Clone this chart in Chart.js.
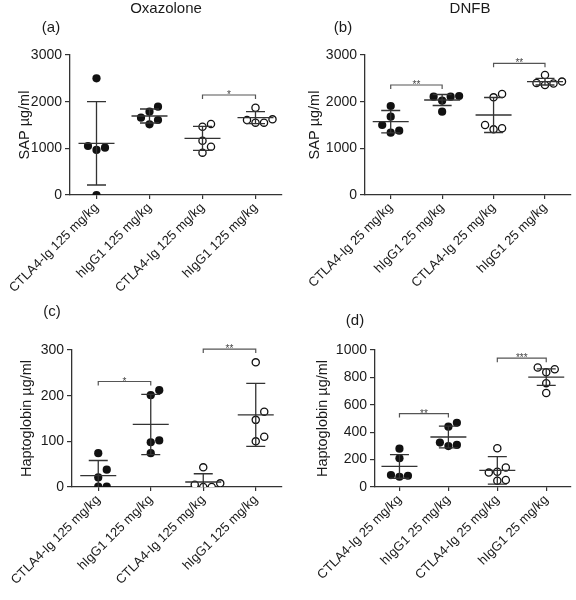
<!DOCTYPE html>
<html><head><meta charset="utf-8">
<script src="https://cdn.jsdelivr.net/npm/chart.js@4.4.1/dist/chart.umd.min.js"></script>
<style>
html,body{margin:0;padding:0;background:#fff;}
#wrap{position:relative;width:576px;height:600px;overflow:hidden;background:#fff;}
.panel{position:absolute;}
</style></head><body>
<div id="wrap">
  <div class="panel" style="left:0;top:0;width:288px;height:300px"><canvas id="cA"></canvas></div>
  <div class="panel" style="left:288px;top:0;width:288px;height:300px"><canvas id="cB"></canvas></div>
  <div class="panel" style="left:0;top:290px;width:288px;height:310px"><canvas id="cC"></canvas></div>
  <div class="panel" style="left:288px;top:290px;width:288px;height:310px"><canvas id="cD"></canvas></div>
</div>
<script>
// ---------- data ----------
const labels125 = ['CTLA4-Ig 125 mg/kg', 'hIgG1 125 mg/kg', 'CTLA4-Ig 125 mg/kg', 'hIgG1 125 mg/kg'];
const labels25 = ['CTLA4-Ig 25 mg/kg', 'hIgG1 25 mg/kg', 'CTLA4-Ig 25 mg/kg', 'hIgG1 25 mg/kg'];

const sapTicks = [0, 1000, 2000, 3000];
const hapOxaTicks = [0, 100, 200, 300];
const hapDnfbTicks = [0, 200, 400, 600, 800, 1000];

// (a) SAP, Oxazolone
const sapOxa1 = [2500, 1015, 965, 1050, 0];
const sapOxa2 = [1893, 1786, 1657, 1607, 1514];
const sapOxa3 = [1521, 1464, 1164, 1036, 907];
const sapOxa4 = [1871, 1621, 1607, 1550, 1550];
const sapOxaMean = [1107, 1693, 1214, 1657];
const sapOxaSD = [893, 150, 257, 129];
const sapOxaSig = [[2, 3, 2143, '*']];

// (b) SAP, DNFB
const sapDnfb1 = [1907, 1679, 1500, 1379, 1336];
const sapDnfb2 = [2121, 2107, 2107, 2021, 1786];
const sapDnfb3 = [2164, 2093, 1500, 1429, 1407];
const sapDnfb4 = [2571, 2430, 2400, 2390, 2357];
const sapDnfbMean = [1571, 2036, 1714, 2429];
const sapDnfbSD = [240, 118, 375, 72];
const sapDnfbSig = [[0, 1, 2357, '**'], [2, 3, 2821, '**']];

// (c) Haptoglobin, Oxazolone
const hapOxa1 = [74, 38, 21, 1, 1];
const hapOxa2 = [212, 201, 102, 98, 74];
const hapOxa3 = [43, 8, 5, 0, 0];
const hapOxa4 = [273, 165, 147, 110, 100];
const hapOxaMean = [25, 137, 11, 158];
const hapOxaSD = [33, 66, 18, 69];
const hapOxaSig = [[0, 1, 231, '*'], [2, 3, 302, '**']];

// (d) Haptoglobin, DNFB
const hapDnfb1 = [280, 210, 87, 82, 75];
const hapDnfb2 = [469, 440, 324, 307, 299];
const hapDnfb3 = [283, 142, 111, 105, 51, 46];
const hapDnfb4 = [872, 860, 838, 758, 686];
const hapDnfbMean = [150, 365, 121, 802];
const hapDnfbSD = [86, 80, 100, 60];
const hapDnfbSig = [[0, 1, 536, '**'], [2, 3, 940, '***']];

// ---------- plugins ----------
const FONT = '"Liberation Sans", Arial, Helvetica, sans-serif';
Chart.defaults.font.family = FONT;
Chart.defaults.color = '#1a1a1a';

const swarmPlugin = {
  id: 'swarm',
  afterDatasetsUpdate(chart, args, opts) {
    const d = opts.spacing;
    chart.data.datasets.forEach((ds, i) => {
      const meta = chart.getDatasetMeta(i);
      const els = meta.data.slice().sort((a, b) => b.y - a.y);
      const placed = [];
      els.forEach(el => {
        const cx = el.x;
        for (const k of [0, 1, -1, 2, -2, 3, -3]) {
          const x = cx + k * d;
          if (placed.every(p => Math.hypot(p.x - x, p.y - el.y) >= d - 0.01)) {
            el.x = x; placed.push({x: x, y: el.y}); break;
          }
        }
      });
    });
  }
};

const statsPlugin = {
  id: 'stats',
  afterDatasetsDraw(chart, args, opts) {
    const {ctx, chartArea} = chart;
    const xs = chart.scales.x, ys = chart.scales.y;
    ctx.save();
    ctx.beginPath();
    ctx.rect(chartArea.left, chartArea.top - 30, chartArea.right - chartArea.left, chartArea.bottom - chartArea.top + 30);
    ctx.clip();
    ctx.strokeStyle = '#333';
    ctx.lineWidth = 1.3;
    opts.means.forEach((m, i) => {
      const cx = xs.getPixelForValue(i);
      const ym = ys.getPixelForValue(m);
      const yt = ys.getPixelForValue(m + opts.sds[i]);
      const yb = ys.getPixelForValue(m - opts.sds[i]);
      ctx.beginPath();
      ctx.moveTo(cx - 18, ym); ctx.lineTo(cx + 18, ym);
      ctx.moveTo(cx, yt); ctx.lineTo(cx, yb);
      ctx.moveTo(cx - 9.5, yt); ctx.lineTo(cx + 9.5, yt);
      ctx.moveTo(cx - 9.5, yb); ctx.lineTo(cx + 9.5, yb);
      ctx.stroke();
    });
    ctx.strokeStyle = '#555';
    ctx.fillStyle = '#444';
    ctx.lineWidth = 1.2;
    ctx.font = '10px ' + FONT;
    ctx.textAlign = 'center';
    ctx.textBaseline = 'alphabetic';
    opts.sig.forEach(s => {
      const x1 = xs.getPixelForValue(s[0]);
      const x2 = xs.getPixelForValue(s[1]);
      const yy = ys.getPixelForValue(s[2]);
      ctx.beginPath();
      ctx.moveTo(x1, yy + 4); ctx.lineTo(x1, yy); ctx.lineTo(x2, yy); ctx.lineTo(x2, yy + 4);
      ctx.stroke();
      ctx.fillText(s[3], (x1 + x2) / 2, yy + 3);
    });
    ctx.restore();
  }
};

const textPlugin = {
  id: 'panelText',
  afterDraw(chart, args, opts) {
    const ctx = chart.ctx;
    ctx.save();
    ctx.fillStyle = '#1a1a1a';
    ctx.textAlign = 'center';
    ctx.textBaseline = 'middle';
    ctx.font = '15px ' + FONT;
    if (opts.title) ctx.fillText(opts.title, opts.titleX, opts.titleY);
    ctx.fillText(opts.tag, opts.tagX, opts.tagY);
    ctx.restore();
  }
};

// ---------- chart builder ----------
function makeChart(id, p) {
  const groups = [p.g1, p.g2, p.g3, p.g4];
  const datasets = groups.map((vals, g) => ({
    type: 'scatter',
    data: vals.map(v => ({x: g, y: v})),
    pointRadius: g < 2 ? 4.1 : 3.6,
    pointBackgroundColor: g < 2 ? '#111' : '#fff',
    pointBorderColor: '#111',
    pointBorderWidth: g < 2 ? 0 : 1.3,
    pointHoverRadius: 4
  }));
  return new Chart(document.getElementById(id), {
    type: 'scatter',
    data: {datasets: datasets},
    plugins: [swarmPlugin, statsPlugin, textPlugin],
    options: {
      responsive: true,
      maintainAspectRatio: false,
      animation: false,
      layout: {padding: {top: p.top, right: p.right, left: 0, bottom: 0}},
      plugins: {
        legend: {display: false},
        tooltip: {enabled: false},
        swarm: {spacing: 8.5},
        stats: {means: p.mean, sds: p.sd, sig: p.sig},
        panelText: {title: p.title, titleX: p.titleX, titleY: p.titleY, tag: p.tag, tagX: p.tagX, tagY: p.tagY}
      },
      scales: {
        x: {
          type: 'linear',
          min: -0.5, max: 3.5,
          afterBuildTicks: s => { s.ticks = p.labels.map((l, i) => ({value: i})); },
          afterFit: s => { s.height = p.xHeight; s.paddingLeft = 0; s.paddingRight = 0; },
          ticks: {
            callback: v => p.labels[v],
            minRotation: 45, maxRotation: 45,
            autoSkip: false,
            padding: 1,
            color: '#1a1a1a',
            font: {size: 13}
          },
          grid: {display: true, drawOnChartArea: false, drawTicks: true, tickLength: 4, color: '#333', lineWidth: 1.2},
          border: {display: true, color: '#333', width: 1.3}
        },
        y: {
          type: 'linear',
          min: p.ticks[0], max: p.ticks[p.ticks.length - 1],
          afterBuildTicks: s => { s.ticks = p.ticks.map(v => ({value: v})); },
          afterFit: s => { s.width = p.yWidth; s.paddingTop = 0; s.paddingBottom = 0; },
          ticks: {color: '#1a1a1a', font: {size: 14}, padding: 3, callback: v => String(v)},
          grid: {display: true, drawOnChartArea: false, drawTicks: true, tickLength: 5, color: '#333', lineWidth: 1.2},
          border: {display: true, color: '#333', width: 1.3},
          title: {display: true, text: p.yTitle, color: '#1a1a1a', font: {size: 14.5}, padding: {top: p.yTitlePad, bottom: 0}}
        }
      }
    }
  });
}

makeChart('cA', {
  g1: sapOxa1, g2: sapOxa2, g3: sapOxa3, g4: sapOxa4,
  mean: sapOxaMean, sd: sapOxaSD, sig: sapOxaSig,
  labels: labels125, ticks: sapTicks, yTitle: 'SAP µg/ml',
  top: 55, right: 6, yWidth: 70, xHeight: 105, yTitlePad: 16.6,
  title: 'Oxazolone', titleX: 166, titleY: 9, tag: '(a)', tagX: 51, tagY: 28
});
makeChart('cB', {
  g1: sapDnfb1, g2: sapDnfb2, g3: sapDnfb3, g4: sapDnfb4,
  mean: sapDnfbMean, sd: sapDnfbSD, sig: sapDnfbSig,
  labels: labels25, ticks: sapTicks, yTitle: 'SAP µg/ml',
  top: 55, right: 0, yWidth: 77, xHeight: 105, yTitlePad: 18.3,
  title: 'DNFB', titleX: 182, titleY: 9, tag: '(b)', tagX: 55, tagY: 28
});
makeChart('cC', {
  g1: hapOxa1, g2: hapOxa2, g3: hapOxa3, g4: hapOxa4,
  mean: hapOxaMean, sd: hapOxaSD, sig: hapOxaSig,
  labels: labels125, ticks: hapOxaTicks, yTitle: 'Haptoglobin µg/ml',
  top: 60, right: 6, yWidth: 72, xHeight: 113, yTitlePad: 18.3,
  title: '', titleX: 0, titleY: 0, tag: '(c)', tagX: 52, tagY: 22
});
makeChart('cD', {
  g1: hapDnfb1, g2: hapDnfb2, g3: hapDnfb3, g4: hapDnfb4,
  mean: hapDnfbMean, sd: hapDnfbSD, sig: hapDnfbSig,
  labels: labels25, ticks: hapDnfbTicks, yTitle: 'Haptoglobin µg/ml',
  top: 60, right: 1, yWidth: 87, xHeight: 113, yTitlePad: 26.6,
  title: '', titleX: 0, titleY: 0, tag: '(d)', tagX: 67, tagY: 31
});
</script>
</body></html>
